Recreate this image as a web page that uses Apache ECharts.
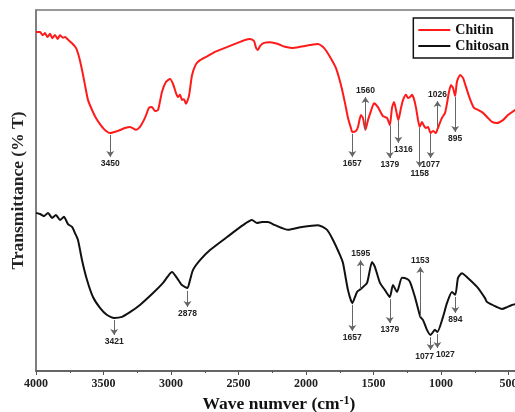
<!DOCTYPE html>
<html>
	<head>
		<meta charset="UTF-8">
		<title>FTIR chitin / chitosan</title>
		<script src="https://cdn.jsdelivr.net/npm/echarts@6/dist/echarts.min.js"></script>
		<style>
			html, body { margin: 0; padding: 0; background: #fff; }
			#main { width: 515px; height: 412px; }
		</style>
	</head>
	<body>
		<div id="main"></div>
		<script>
			// spectra: [wave number (cm-1), transmittance (a.u.)]
			var chitin = [
				[4000, 93.9], [3970, 93.9], [3950, 93.0], [3933, 93.6], [3915, 92.5], [3896, 93.4],
				[3880, 92.2], [3859, 93.1], [3840, 92.0], [3822, 93.0], [3800, 92.3], [3785, 92.5],
				[3763, 91.8], [3733, 90.8], [3704, 89.5], [3681, 87.0], [3659, 83.4], [3637, 79.2],
				[3615, 75.1], [3585, 72.3], [3556, 70.1], [3526, 68.4], [3496, 67.0], [3470, 66.2],
				[3450, 65.9], [3420, 66.2], [3393, 66.5], [3341, 67.3], [3304, 67.6], [3259, 66.8],
				[3230, 67.6], [3193, 70.1], [3163, 72.9], [3141, 73.1], [3119, 72.0], [3096, 72.3],
				[3067, 77.3], [3037, 80.1], [3007, 80.9], [2985, 79.5], [2963, 77.0], [2948, 75.9],
				[2933, 76.5], [2919, 75.1], [2904, 75.3], [2889, 74.0], [2867, 76.2], [2844, 82.0],
				[2815, 85.0], [2785, 86.1], [2726, 87.3], [2674, 88.4], [2600, 89.5], [2526, 90.6],
				[2452, 91.7], [2415, 92.0], [2385, 91.4], [2370, 89.5], [2356, 88.9], [2341, 90.0],
				[2311, 90.9], [2267, 91.1], [2207, 90.6], [2156, 89.8], [2104, 89.5], [2044, 89.8],
				[1970, 90.3], [1911, 90.6], [1867, 89.5], [1822, 87.0], [1778, 83.9], [1741, 79.2],
				[1711, 74.2], [1689, 70.1], [1667, 67.3], [1657, 66.2], [1630, 66.5], [1615, 67.6],
				[1593, 70.9], [1578, 70.1], [1560, 66.8], [1541, 69.5], [1519, 72.0], [1496, 74.2],
				[1467, 73.1], [1430, 70.6], [1400, 70.1], [1379, 68.1], [1363, 72.9], [1348, 74.5],
				[1333, 72.3], [1316, 69.5], [1296, 72.9], [1281, 75.1], [1259, 76.5], [1244, 75.6],
				[1230, 75.9], [1215, 76.5], [1200, 75.3], [1185, 72.9], [1170, 69.5], [1158, 67.6],
				[1141, 69.0], [1126, 67.9], [1111, 67.3], [1096, 67.6], [1077, 65.9], [1059, 66.5],
				[1037, 65.9], [1026, 67.0], [993, 70.1], [970, 71.5], [956, 74.0], [941, 77.3],
				[926, 79.2], [911, 78.4], [895, 76.2], [882, 80.1], [859, 82.0], [837, 81.2],
				[815, 78.7], [785, 75.3], [756, 72.9], [726, 72.3], [689, 71.5], [652, 70.1],
				[622, 69.0], [585, 68.7], [541, 69.5], [504, 70.9], [452, 72.3], [400, 73.5]
			];

			var chitosan = [
				[4000, 43.8], [3970, 43.5], [3941, 42.9], [3911, 43.8], [3881, 42.4], [3852, 43.2],
				[3822, 41.8], [3793, 42.7], [3763, 40.7], [3733, 39.9], [3711, 38.2], [3689, 36.3],
				[3659, 30.7], [3622, 25.2], [3578, 20.5], [3526, 17.5], [3474, 15.5], [3421, 14.7],
				[3363, 15.0], [3304, 16.3], [3230, 18.3], [3133, 21.6], [3059, 24.4], [3022, 26.3],
				[2993, 27.4], [2956, 25.8], [2919, 23.8], [2878, 23.0], [2859, 25.2], [2837, 28.0],
				[2785, 30.7], [2711, 33.5], [2585, 37.1], [2467, 40.4], [2400, 41.8], [2363, 41.0],
				[2326, 41.3], [2282, 41.3], [2230, 40.4], [2133, 39.1], [2030, 39.9], [1911, 40.4],
				[1844, 39.1], [1800, 36.3], [1748, 32.1], [1726, 29.9], [1689, 22.4], [1657, 18.8],
				[1622, 21.9], [1595, 22.7], [1548, 24.4], [1511, 30.2], [1489, 28.8], [1452, 24.4],
				[1415, 22.4], [1379, 20.5], [1356, 23.8], [1326, 21.9], [1289, 25.8], [1252, 25.5],
				[1230, 24.7], [1193, 20.5], [1153, 15.0], [1133, 14.1], [1104, 11.4], [1077, 10.0],
				[1045, 11.4], [1027, 10.8], [985, 15.0], [956, 18.8], [919, 21.9], [894, 21.1],
				[874, 25.8], [845, 27.1], [807, 26.0], [733, 23.3], [674, 20.2], [659, 19.1],
				[585, 17.7], [548, 17.2], [511, 17.7], [474, 18.3], [400, 18.8]
			];

			// marked peaks: wave number, arrow start and arrow tip (transmittance)
			var chitinPeaks = [3450, 1657, 1560, 1379, 1316, 1158, 1077, 1026, 895];
			var chitinFrom  = [65.4, 65.7, 66.8, 67.9, 69.3, 67.3, 65.7, 67.6, 75.9];
			var chitinTo    = [59.3, 59.3, 75.9, 59.0, 63.2, 56.5, 59.0, 74.8, 66.2];

			var chitosanPeaks = [3421, 2878, 1657, 1595, 1379, 1153, 1077, 1027, 894];
			var chitosanFrom  = [14.1, 22.2, 18.3, 22.7, 19.9, 15.0, 9.4, 10.2, 20.5];
			var chitosanTo    = [10.0, 17.7, 11.1, 30.7, 13.3, 28.8, 5.8, 6.4, 16.1];

			// label nudges (px) for crowded peaks
			var labelShift = { 'Chitin1316': [5, 0], 'Chitosan1077': [-6, 0], 'Chitosan1027': [8, 0] };

			var serif = '"Liberation Serif", "Times New Roman", serif';

			function arrows(name, peaks, from, to) {
				var list = [];
				for (var i = 0; i < peaks.length; i++) {
					var shift = labelShift[name + peaks[i]] || [0, 0];
					list.push([
						{ name: String(peaks[i]), coord: [peaks[i], from[i]], label: { offset: shift } },
						{ coord: [peaks[i], to[i]] }
					]);
				}
				return list;
			}

			function peakMarks(name, peaks, from, to) {
				return {
					silent: true,
					animation: false,
					symbol: ['none', 'arrow'],
					symbolSize: 6,
					lineStyle: { color: '#666', width: 1, type: 'solid' },
					label: {
						position: 'end',
						distance: 2,
						formatter: '{b}',
						color: '#222',
						fontSize: 8.5,
						fontWeight: 'bold',
						fontFamily: '"Liberation Sans", Arial, sans-serif'
					},
					emphasis: { disabled: true },
					data: arrows(name, peaks, from, to)
				};
			}

			var myChart = echarts.init(document.getElementById('main'));

			var option = {
				animation: false,
				grid: {
					left: 36, top: 10, width: 486, height: 361,
					outerBoundsMode: 'none',
					containLabel: false,
					show: true, borderColor: '#777', borderWidth: 1.5
				},
				legend: {
					right: 2, top: 18,
					orient: 'vertical',
					icon: 'rect',
					itemWidth: 32, itemHeight: 2, itemGap: 2,
					padding: [5, 4, 5, 5],
					borderColor: '#111', borderWidth: 1.5,
					backgroundColor: '#fff',
					textStyle: { fontFamily: serif, fontWeight: 'bold', fontSize: 14, color: '#111' },
					data: ['Chitin', 'Chitosan']
				},
				xAxis: {
					type: 'value',
					inverse: true,
					min: 400, max: 4000,
					splitNumber: 7,
					name: 'Wave numver (cm{sup|-1})',
					nameLocation: 'middle',
					nameGap: 21,
					nameTextStyle: {
						fontFamily: serif, fontWeight: 'bold', fontSize: 17.5, color: '#111',
						rich: { sup: { fontFamily: serif, fontWeight: 'bold', fontSize: 12, verticalAlign: 'top', padding: [0, 0, 8, 0] } }
					},
					axisLine: { lineStyle: { color: '#555', width: 1.5 } },
					axisTick: { length: 4, lineStyle: { color: '#555' } },
					minorTick: { show: true, splitNumber: 2, length: 2, lineStyle: { color: '#555' } },
					splitLine: { show: false },
					axisLabel: {
						margin: 7,
						fontFamily: serif, fontWeight: 'bold', fontSize: 12, color: '#222',
						formatter: function (v) { return v % 500 === 0 ? String(v) : ''; }
					}
				},
				yAxis: {
					type: 'value',
					min: 0, max: 100,
					name: 'Transmittance (% T)',
					nameLocation: 'middle',
					nameGap: 9,
					nameTextStyle: { fontFamily: serif, fontWeight: 'bold', fontSize: 17.5, color: '#222' },
					axisLine: { show: true, lineStyle: { color: '#777', width: 1.5 } },
					axisTick: { show: false },
					axisLabel: { show: false },
					splitLine: { show: false }
				},
				series: [
					{
						name: 'Chitin',
						type: 'line',
						showSymbol: false,
						symbol: 'none',
						smooth: 0.2,
						color: '#ff1a1a',
						lineStyle: { width: 2, color: '#ff1a1a' },
						data: chitin,
						markLine: peakMarks('Chitin', chitinPeaks, chitinFrom, chitinTo)
					},
					{
						name: 'Chitosan',
						type: 'line',
						showSymbol: false,
						symbol: 'none',
						smooth: 0.2,
						color: '#111',
						lineStyle: { width: 2, color: '#111' },
						data: chitosan,
						markLine: peakMarks('Chitosan', chitosanPeaks, chitosanFrom, chitosanTo)
					}
				]
			};

			myChart.setOption(option);
		</script>
	</body>
</html>
